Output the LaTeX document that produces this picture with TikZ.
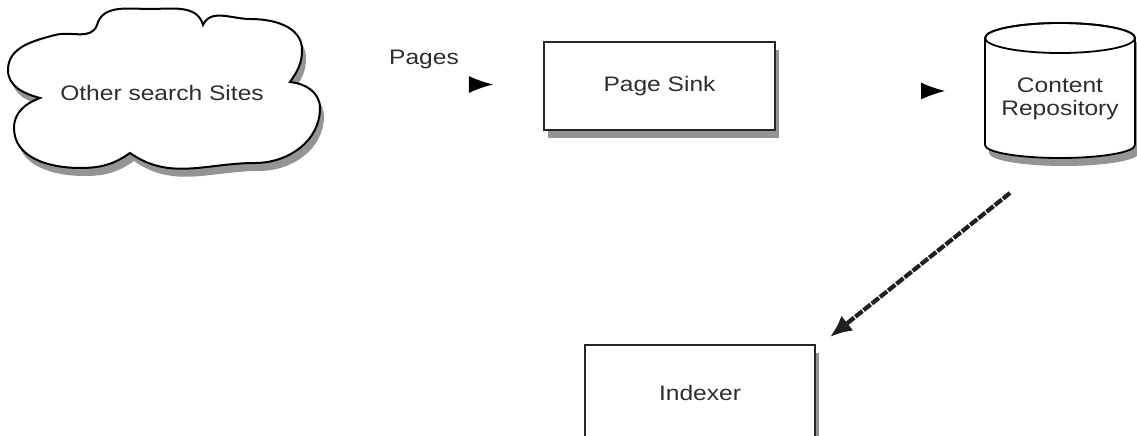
\documentclass[tikz,border=0pt]{standalone}
\usepackage{fontspec}
\setmainfont{Liberation Sans}[FakeStretch=1.17]
\usetikzlibrary{arrows.meta,shadows}

% outline of the cloud, drawn with the given options
\newcommand\cloudoutline[1]{%
  \path[#1] (40,-98) to[out=165,in=-90] (8,-70) to[out=90,in=195] (55,-35)
    to[out=15,in=-110] (97,-25)
    to[out=75,in=180] (150,-9) to[out=0,in=105] (203,-25)
    to[out=65,in=180] (250,-19) to[out=0,in=90] (302,-50) to[out=-90,in=55] (290,-82)
    to[out=-5,in=90] (320,-108) to[out=-90,in=0] (255,-163) to[out=180,in=-35] (130,-153)
    to[out=-145,in=0] (80,-168) to[out=180,in=-90] (14,-128) to[out=90,in=200] (40,-98) -- cycle;}

\begin{document}
\begin{tikzpicture}[x=1pt,y=1pt,
  lbl/.style={font=\fontsize{21}{23}\selectfont, text=black!82, align=center, inner sep=0pt},
  softshadow/.style={drop shadow={shadow xshift=4pt, shadow yshift=-8pt, opacity=1, fill=black!42}},
  boxshape/.style={lbl, draw=black!85, line width=2.2pt, fill=white, softshadow},
  flowtip/.style={-{Latex[length=24pt,width=17pt]}, line width=1pt, black},
  diag/.style={-{Latex[length=22pt,width=19pt]}, line width=4.2pt, black!88,
               dash pattern=on 9pt off 1.5pt},
]
\clip (0,0) rectangle (1137,-436);
\fill[white] (0,0) rectangle (1137,-436);

% cloud of external sites
\cloudoutline{fill=black!42, shift={(4,-8)}}
\cloudoutline{fill=white, draw=black, line width=2pt}
\node[lbl, anchor=base] (cloud) at (162,-100) {Other search Sites};

% edge label
\node[lbl, anchor=base] (pages) at (424,-65) {Pages};

% page sink
\node[boxshape, minimum width=231pt, minimum height=88pt] (sink) at (659.5,-86) {Page Sink};

% content repository (cylinder)
\path[fill=white, draw=black, line width=1.8pt, softshadow]
  (985,-38) -- (985,-145) arc[start angle=180, end angle=360, x radius=75, y radius=13]
  -- (1135,-38) arc[start angle=0, end angle=180, x radius=75, y radius=15] -- cycle;
\draw[line width=1.8pt] (1060,-38) ellipse[x radius=75, y radius=15];
\node[lbl] (repo) at (1060,-99) {Content\\Repository};
\coordinate (repoW) at (985,-91);

% indexer
\node[boxshape, minimum width=230pt, minimum height=96pt] (idx) at (700,-393) {Indexer};

% connectors
\draw[flowtip, shorten <=205pt, shorten >=50pt] ([yshift=8pt]cloud.east) -- ([yshift=8pt]cloud.east -| sink.west);
\draw[flowtip, shorten <=146pt, shorten >=40pt] ([yshift=-5pt]sink.east) -- ([yshift=-5pt]sink.east -| repoW);
\coordinate (dS) at (1010,-193);
\coordinate (dE) at (830,-337);
\draw[diag] (dS) -- (dE);
\end{tikzpicture}
\end{document}
